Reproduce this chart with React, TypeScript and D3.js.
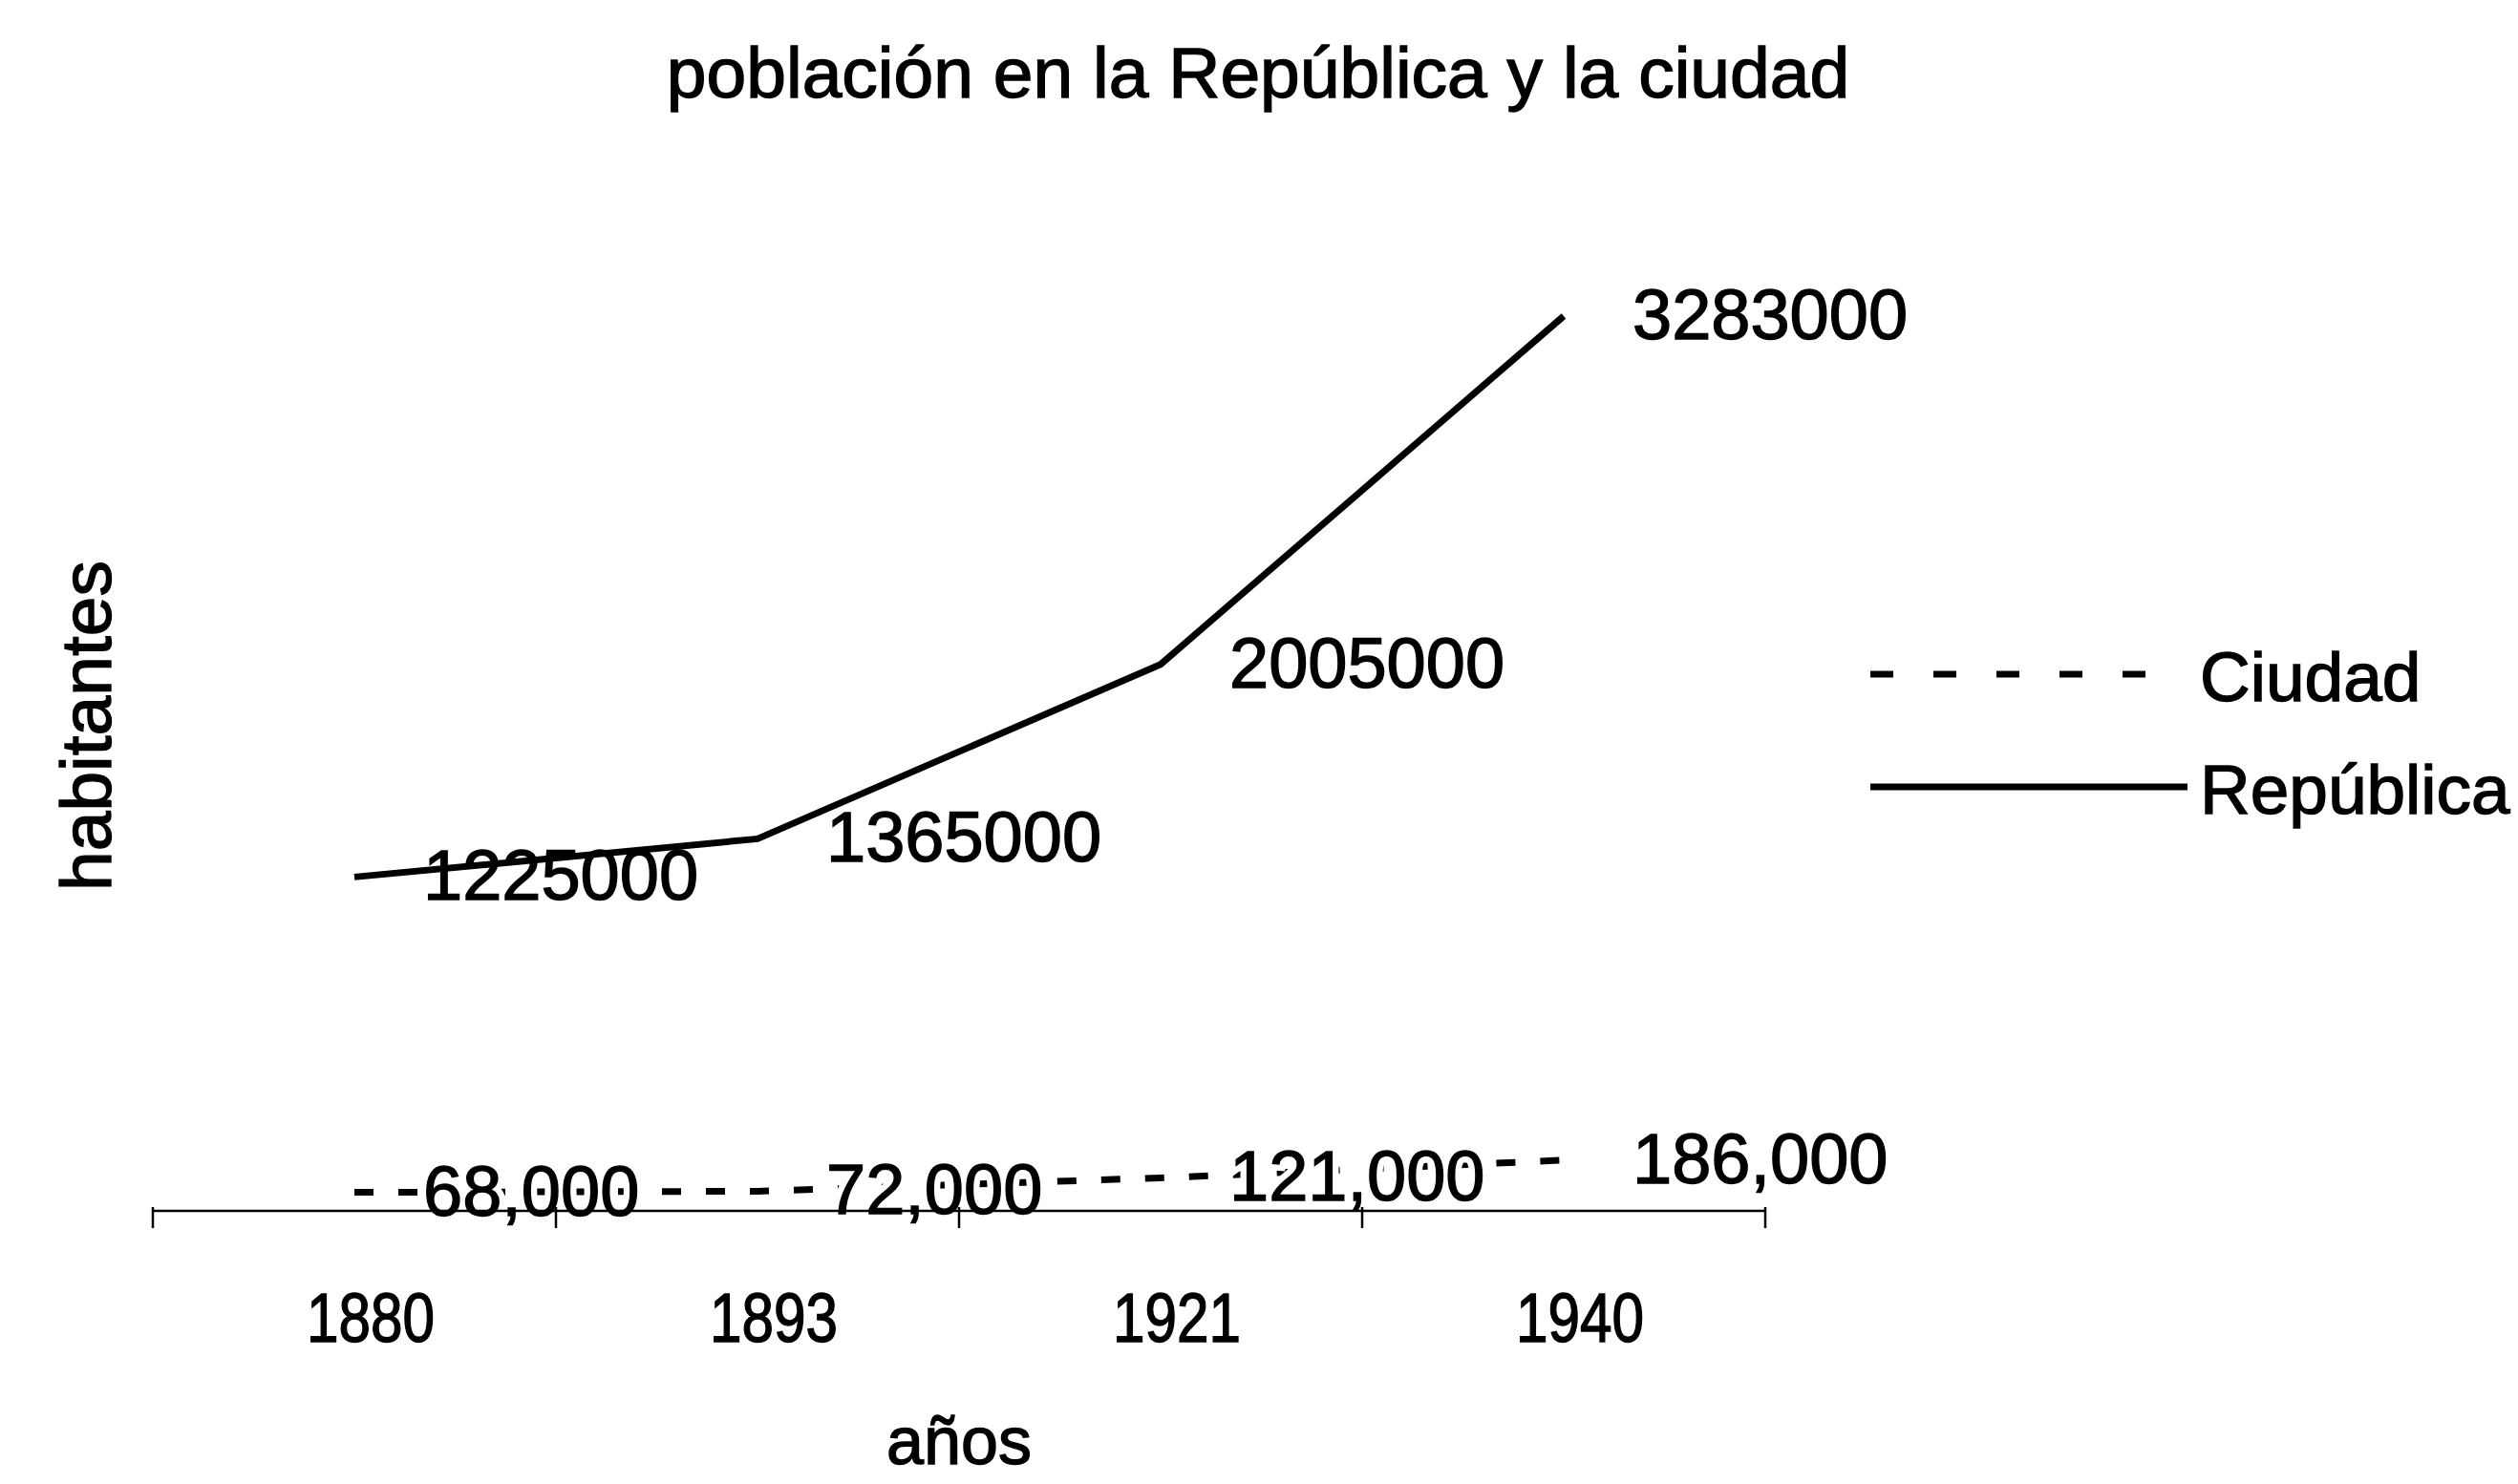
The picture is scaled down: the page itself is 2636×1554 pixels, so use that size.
import React, { useRef, useEffect } from "react";
import * as d3 from "d3";

// data
const years = ["1880", "1893", "1921", "1940"];
const republica = [1225000, 1365000, 2005000, 3283000];
const ciudad = [68000, 72000, 121000, 186000];

const title = "población en la República y la ciudad";
const yTitle = "habitantes";
const xTitle = "años";

const W = 2636;
const H = 1554;
const FONT = "'Liberation Sans', Arial, sans-serif";

export default function App() {
  const svgRef = useRef<SVGSVGElement>(null);

  useEffect(() => {
    document.body.style.margin = "0";
    const svg = d3.select(svgRef.current);
    svg.selectAll("*").remove();

    svg.append("rect").attr("width", W).attr("height", H).attr("fill", "#fff");

    const x = d3.scaleBand<string>().domain(years).range([160, 1848]);
    const cx = (d: string) => (x(d) as number) + x.bandwidth() / 2;

    // zero sits on the baseline of the x axis
    const y = d3.scaleLinear()
      .domain([0, d3.max(republica) as number])
      .range([1268, 331]);

    const series = [
      { name: "Ciudad", values: ciudad, dash: "20 26", legendDash: "24 42", fmt: d3.format(","), halo: true },
      { name: "República", values: republica, dash: null, legendDash: null, fmt: d3.format("d"), halo: false },
    ];

    const g = svg.append("g")
      .attr("font-family", FONT)
      .attr("fill", "#000");

    // scanned text is a bit heavier than plain Arial
    const ink = (sel: any) => sel.attr("stroke", "#000").attr("stroke-width", 1.4);

    // title
    g.append("text")
      .attr("x", 1317).attr("y", 102)
      .attr("text-anchor", "middle")
      .attr("font-size", 75)
      .text(title)
      .call(ink);

    // y title
    g.append("text")
      .attr("transform", "translate(116,760) rotate(-90)")
      .attr("text-anchor", "middle")
      .attr("font-size", 75)
      .text(yTitle)
      .call(ink);

    // lines
    const line = d3.line<number>()
      .x((_, i) => cx(years[i]))
      .y(d => y(d));

    series.forEach(s => {
      g.append("path")
        .datum(s.values)
        .attr("d", line)
        .attr("fill", "none")
        .attr("stroke", "#000")
        .attr("stroke-width", 7)
        .attr("stroke-dasharray", s.dash);

      if (s.halo) {
        // white box behind the city labels hides part of the dashed line
        g.selectAll(null).data(s.values).enter().append("text")
          .attr("x", (_, i) => cx(years[i]) + 72)
          .attr("y", d => y(d) + 24)
          .attr("font-size", 74)
          .attr("fill", "#fff")
          .attr("stroke", "#fff")
          .attr("stroke-width", 14)
          .text(d => s.fmt(d));
      }

      g.selectAll(null).data(s.values).enter().append("text")
        .attr("x", (_, i) => cx(years[i]) + 72)
        .attr("y", d => y(d) + 24)
        .attr("font-size", 74)
        .text(d => s.fmt(d))
        .call(ink);
    });

    // x axis line + ticks at band edges (drawn over the labels)
    const [r0, r1] = x.range();
    const axisY = y(0);
    g.append("line")
      .attr("x1", r0).attr("x2", r1)
      .attr("y1", axisY).attr("y2", axisY)
      .attr("stroke", "#000").attr("stroke-width", 2.5);
    const edges = d3.range(years.length + 1).map(i => r0 + i * x.step());
    g.selectAll(".tick").data(edges).enter().append("line")
      .attr("x1", d => d).attr("x2", d => d)
      .attr("y1", axisY - 4).attr("y2", axisY + 18)
      .attr("stroke", "#000").attr("stroke-width", 2.5);

    g.selectAll(".year").data(years).enter().append("text")
      .attr("x", d => cx(d) + 17)
      .attr("y", 1405)
      .attr("text-anchor", "middle")
      .attr("font-size", 72)
      .attr("textLength", 134)
      .attr("lengthAdjust", "spacingAndGlyphs")
      .text(d => d)
      .call(ink);

    g.append("text")
      .attr("x", 1004).attr("y", 1533)
      .attr("text-anchor", "middle")
      .attr("font-size", 70)
      .text(xTitle)
      .call(ink);

    // legend
    const legendY = [706, 824];
    series.forEach((s, i) => {
      g.append("line")
        .attr("x1", 1958).attr("x2", s.legendDash ? 2246 : 2290)
        .attr("y1", legendY[i]).attr("y2", legendY[i])
        .attr("stroke", "#000")
        .attr("stroke-width", 7)
        .attr("stroke-dasharray", s.legendDash);
      g.append("text")
        .attr("x", 2303).attr("y", legendY[i] + 28)
        .attr("font-size", 73)
        .text(s.name)
        .call(ink);
    });
  }, []);

  return <svg ref={svgRef} width={W} height={H} style={{ display: "block" }} />;
}
